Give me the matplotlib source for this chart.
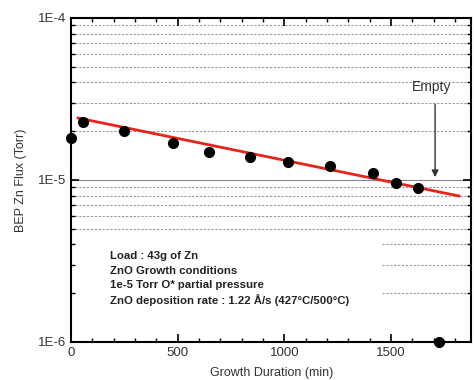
import numpy as np
import matplotlib.pyplot as plt
from matplotlib.ticker import MultipleLocator, LogLocator

plt.rcParams['font.family'] = ['Liberation Sans', 'DejaVu Sans']

# measured Zn flux vs growth duration
duration_min = [0, 56, 248, 478, 647, 839, 1017, 1214, 1415, 1523, 1626, 1725]
flux_torr = [1.82e-5, 2.28e-5, 2.0e-5, 1.69e-5, 1.49e-5, 1.39e-5, 1.29e-5,
             1.22e-5, 1.10e-5, 9.57e-6, 8.93e-6, 1.0e-6]

# exponential fit (end points of the red line)
fit_x = [33, 1818]
fit_y = [2.41e-5, 7.96e-6]

empty_x = 1706
empty_y = 1.0e-5

notes = ['Load : 43g of Zn',
         'ZnO Growth conditions',
         '1e-5 Torr O* partial pressure',
         'ZnO deposition rate : 1.22 \u00c5/s (427\u00b0C/500\u00b0C)']

grid_full = [2e-5, 3e-5, 4e-5, 5e-5, 6e-5, 7e-5, 8e-5, 9e-5,
             5e-6, 6e-6, 7e-6, 8e-6, 9e-6]
grid_part = [2e-6, 3e-6, 4e-6]

txt_col = '#333333'

fig = plt.figure(figsize=(4.74, 3.8), dpi=100)
ax = fig.add_axes([0.150, 0.100, 0.844, 0.853])
ax.set_yscale('log')
ax.set_xlim(0, 1875)
ax.set_ylim(1e-6, 1e-4)

for g in grid_full:
  ax.axhline(g, color='#999999', lw=0.8, ls=(0, (2, 1.5)), zorder=1)
for g in grid_part:
  ax.hlines(g, 1455, 1875, color='#999999', lw=0.8, ls=(0, (2, 1.5)), zorder=1)
ax.axhline(1e-5, color='#888888', lw=0.8, zorder=1)

ax.plot(fit_x, fit_y, '-', color='#e8231b', lw=2, zorder=3)
ax.plot(duration_min, flux_torr, 'o', color='black', ms=7, zorder=4, clip_on=False)

ax.annotate('', xy=(empty_x, empty_y), xytext=(empty_x, 3.05e-5),
            arrowprops=dict(arrowstyle='-|>', color='#333333', lw=1, mutation_scale=10))
ax.text(empty_x - 15, 3.4e-5, 'Empty', fontsize=10, color=txt_col, ha='center', va='bottom')

for i, line in enumerate(notes):
  ax.text(0.0975, 0.265 - i * 0.045, line, transform=ax.transAxes, fontsize=8.2,
          fontweight='bold', color='#222222', ha='left', va='center')

ax.xaxis.set_major_locator(MultipleLocator(500))
ax.xaxis.set_minor_locator(MultipleLocator(100))
ax.yaxis.set_major_locator(LogLocator(base=10))
ax.yaxis.set_minor_locator(LogLocator(base=10, subs=np.arange(2, 10)))
ax.yaxis.set_major_formatter(plt.FuncFormatter(lambda v, p: '1E%d' % round(np.log10(v))))
ax.yaxis.set_minor_formatter(plt.NullFormatter())

ax.tick_params(which='both', direction='in', top=True, right=True, colors='black',
               labelcolor=txt_col, labelsize=9.5)
ax.tick_params(which='major', length=6, width=1.2)
ax.tick_params(which='minor', length=3, width=1)
for s in ax.spines.values():
  s.set_linewidth(1.5)

ax.set_xlabel('Growth Duration (min)', fontsize=9, color=txt_col, labelpad=6)
ax.set_ylabel('BEP Zn Flux (Torr)', fontsize=9, color=txt_col, labelpad=8)

fig.savefig('out.png', dpi=100)
